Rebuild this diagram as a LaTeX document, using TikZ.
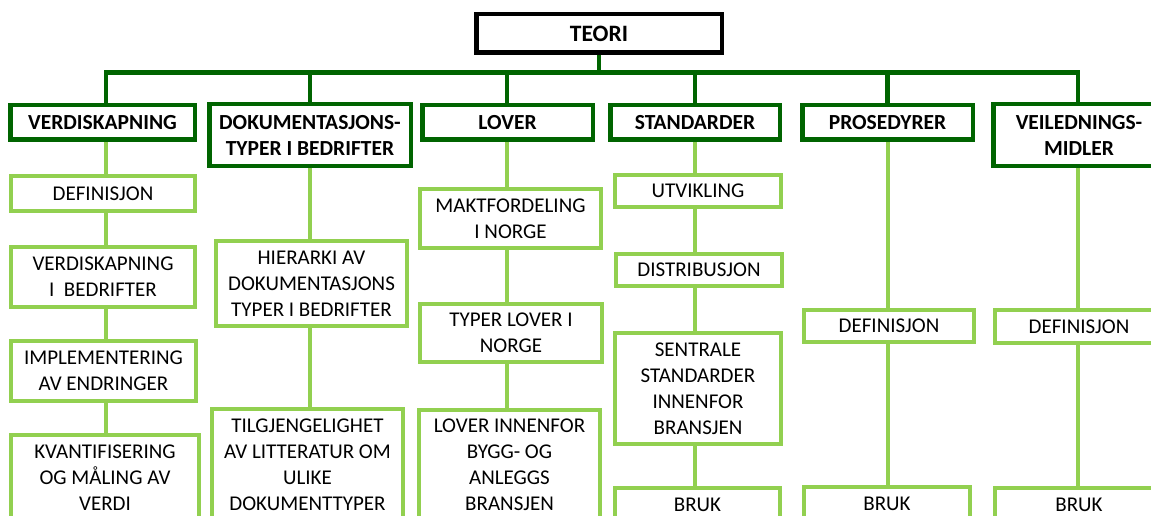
\documentclass[tikz,border=0pt]{standalone}
\usepackage{fontspec}
\setmainfont{Carlito}
\usetikzlibrary{backgrounds}
\definecolor{trunkgreen}{RGB}{0,100,0}
\definecolor{leafgreen}{RGB}{146,208,80}
\tikzset{
  boxbase/.style={draw, fill=white, inner sep=0pt, align=center,
    font=\fontsize{21}{26}\selectfont},
  rootbox/.style={boxbase, draw=black, line width=4.5pt,
    font=\fontsize{23.5}{28}\selectfont\bfseries},
  topicbox/.style={boxbase, draw=trunkgreen, line width=4.5pt,
    font=\fontsize{21.5}{26}\selectfont\bfseries},
  itembox/.style={boxbase, draw=leafgreen, line width=4pt},
  trunk/.style={draw=trunkgreen, line width=4.5pt, line join=miter},
  branch/.style={draw=leafgreen, line width=4pt},
  sz/.style 2 args={minimum width=#1pt, minimum height=#2pt},
}
\begin{document}
\begin{tikzpicture}[x=1pt, y=-1pt]
\useasboundingbox (0,0) rectangle (1151,516);

% root
\node[rootbox, sz={245.5}{38.5}] (teori) at (599,33.5) {TEORI};

% main topics
\node[topicbox, sz={184.5}{34.5}] (v1) at (102.5,122.5) {VERDISKAPNING};
\node[topicbox, sz={201.5}{61.5}] (v2) at (310,135) {DOKUMENTASJONS-\\TYPER I BEDRIFTER};
\node[topicbox, sz={170.5}{34.5}] (v3) at (507.5,122.5) {LOVER};
\node[topicbox, sz={169.5}{34.5}] (v4) at (695,122.5) {STANDARDER};
\node[topicbox, sz={170.5}{34.5}] (v5) at (887.5,122.5) {PROSEDYRER};
\node[topicbox, sz={171.5}{61.5}] (v6) at (1079,135) {VEILEDNINGS-\\MIDLER};

% verdiskapning
\node[itembox, sz={184}{35}] (a1) at (103,193.5) {DEFINISJON};
\node[itembox, sz={184}{60}] (a2) at (103,277) {VERDISKAPNING\\I~~BEDRIFTER};
\node[itembox, sz={185}{60}] (a3) at (103.5,371) {IMPLEMENTERING\\AV ENDRINGER};
\node[itembox, sz={188}{86}] (a4) at (105,478) {KVANTIFISERING\\OG MÅLING AV\\VERDI};

% dokumentasjonstyper
\node[itembox, sz={191}{85}] (b1) at (311.5,283.5) {HIERARKI AV\\DOKUMENTASJONS\\TYPER I BEDRIFTER};
\node[itembox, sz={191}{112}] (b2) at (307.5,465) {TILGJENGELIGHET\\AV LITTERATUR OM\\ULIKE\\DOKUMENTTYPER};

% lover
\node[itembox, sz={181}{59}] (c1) at (510.5,218.5) {MAKTFORDELING\\I NORGE};
\node[itembox, sz={182}{58}] (c2) at (511,333) {TYPER LOVER I\\NORGE};
\node[itembox, sz={181}{110}] (c3) at (509.5,465) {LOVER INNENFOR\\BYGG- OG\\ANLEGGS\\BRANSJEN};

% standarder
\node[itembox, sz={166}{32}] (d1) at (698,191) {UTVIKLING};
\node[itembox, sz={166}{32}] (d2) at (699,270) {DISTRIBUSJON};
\node[itembox, sz={166}{111}] (d3) at (698,388.5) {SENTRALE\\STANDARDER\\INNENFOR\\BRANSJEN};
\node[itembox, sz={165}{34}] (d4) at (697.5,505) {BRUK};

% prosedyrer
\node[itembox, sz={170}{32}] (e1) at (889,326) {DEFINISJON};
\node[itembox, sz={166}{34}] (e2) at (887,504) {BRUK};

% veiledningsmidler
\node[itembox, sz={168}{33}] (f1) at (1079,326.5) {DEFINISJON};
\node[itembox, sz={168}{34}] (f2) at (1079,505) {BRUK};

% bus junctions
\coordinate (k1) at (106,72.5);
\coordinate (k2) at (310,72.5);
\coordinate (k3) at (507,72.5);
\coordinate (k4) at (695,72.5);
\coordinate (k5) at (887.5,72.5);
\coordinate (k6) at (1078,72.5);

\begin{scope}[on background layer]
  \draw[trunk] (teori.south) -- (teori.south |- k1);
  \draw[trunk] (v1.north -| k1) -- (k1) -- (k6) -- (v6.north -| k6);
  \foreach \k/\v in {k2/v2, k3/v3, k4/v4, k5/v5}
    \draw[trunk] (\v.north -| \k) -- (\k);

  \draw[branch] (v1.south -| k1) -- (a1.north -| k1);
  \draw[branch] (a1.south -| k1) -- (a2.north -| k1);
  \draw[branch] (a2.south -| k1) -- (a3.north -| k1);
  \draw[branch] (a3.south -| k1) -- (a4.north -| k1);

  \draw[branch] (v2.south -| k2) -- (b1.north -| k2);
  \draw[branch] (b1.south -| k2) -- (b2.north -| k2);

  \draw[branch] (v3.south -| k3) -- (c1.north -| k3);
  \draw[branch] (c1.south -| k3) -- (c2.north -| k3);
  \draw[branch] (c2.south -| k3) -- (c3.north -| k3);

  \draw[branch] (v4.south -| k4) -- (d1.north -| k4);
  \draw[branch] (d1.south -| k4) -- (d2.north -| k4);
  \draw[branch] (d2.south -| k4) -- (d3.north -| k4);
  \draw[branch] (d3.south -| k4) -- (d4.north -| k4);

  \draw[branch] (v5.south -| k5) -- (e1.north -| k5);
  \draw[branch] (e1.south -| k5) -- (e2.north -| k5);

  \draw[branch] (v6.south -| k6) -- (f1.north -| k6);
  \draw[branch] (f1.south -| k6) -- (f2.north -| k6);
\end{scope}
\end{tikzpicture}
\end{document}
